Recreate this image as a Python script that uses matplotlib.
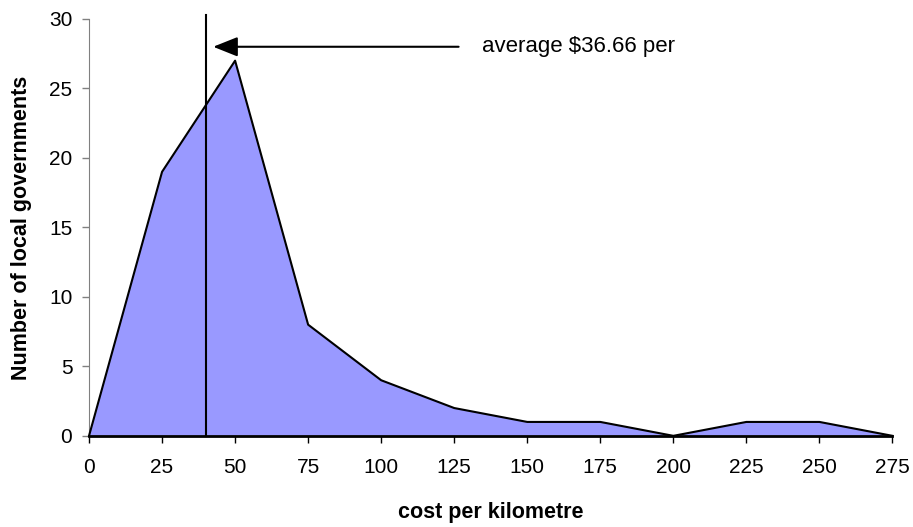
import matplotlib.pyplot as plt

plt.rcParams['font.family'] = ['Liberation Sans', 'DejaVu Sans']

# cost per kilometre bins and counts
cost = [0, 25, 50, 75, 100, 125, 150, 175, 200, 225, 250, 275]
count = [0, 19, 27, 8, 4, 2, 1, 1, 0, 1, 1, 0]
avg_line = 40
avg_text = "average $36.66 per"

fig = plt.figure(figsize=(9.13, 5.27), dpi=100)
ax = fig.add_axes([0.0975, 0.173, 0.88, 0.791])

ax.fill_between(cost, count, 0, facecolor="#9999FF", edgecolor="none")
ax.plot(cost, count, color="black", lw=1.5, clip_on=False, zorder=3)

ax.plot([avg_line, avg_line], [0, 30.3], color="black", lw=1.5, clip_on=False, zorder=4)
ax.annotate("", xy=(42.5, 28), xytext=(126.5, 28),
            arrowprops=dict(arrowstyle="-|>,head_length=1.5,head_width=0.6",
                            color="black", lw=1.5, shrinkA=0, shrinkB=0),
            annotation_clip=False)
ax.text(134.5, 28, avg_text, fontsize=16, va="center", ha="left")

ax.set_xlim(0, 275)
ax.set_ylim(0, 30)
ax.set_xticks(cost)
ax.set_yticks(range(0, 31, 5))
ax.tick_params(axis="x", labelsize=15, length=5, width=1, direction="out", pad=11)
ax.tick_params(axis="y", labelsize=15, length=5, width=1, color="#808080", pad=7)
for lbl in ax.get_xticklabels():
    lbl.set_family(['Liberation Sans Narrow', 'Liberation Sans'])

for s in ["top", "right"]:
    ax.spines[s].set_visible(False)
ax.spines["left"].set_color("#808080")
ax.spines["bottom"].set_linewidth(2)

ax.set_xlabel("cost per kilometre", fontsize=15.5, fontweight="bold", labelpad=18)
ax.set_ylabel("Number of local governments", fontsize=15.5, fontweight="bold", labelpad=12)

fig.savefig("out.png", dpi=100)
